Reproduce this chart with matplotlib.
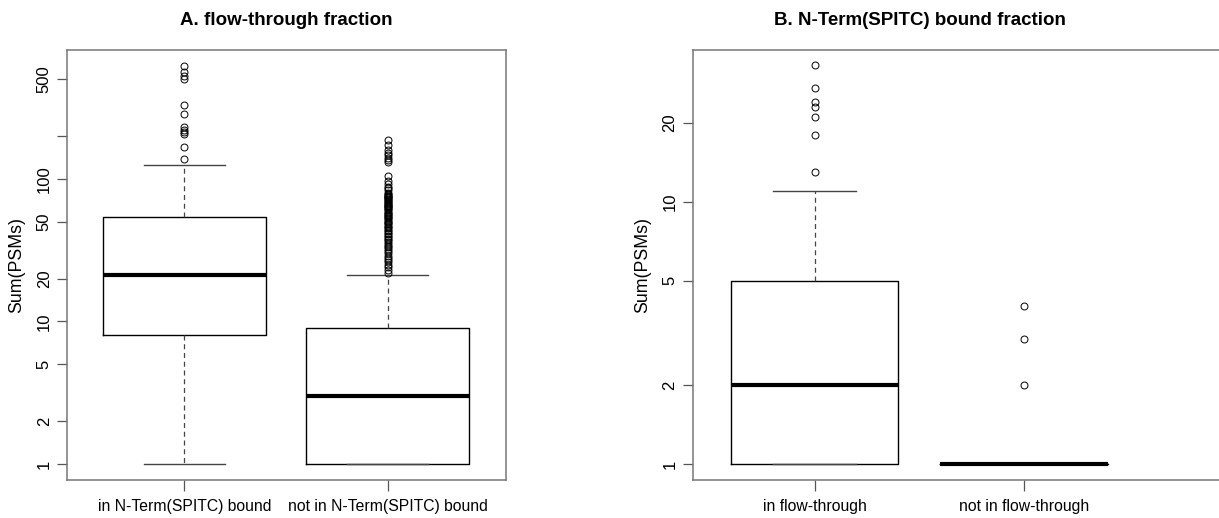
import matplotlib
matplotlib.use("Agg")
import matplotlib.pyplot as plt

plt.rcParams["font.family"] = ["Liberation Sans", "DejaVu Sans"]

# ------------------------------------------------------------
# Data
# ------------------------------------------------------------
a_labels = ["in N-Term(SPITC) bound", "not in N-Term(SPITC) bound"]
a_whislo = [1, 1]
a_q1 = [8, 1]
a_med = [21, 3]
a_q3 = [54, 9]
a_whishi = [125, 21]
a_fliers_1 = [620, 560, 525, 505, 330, 285, 232, 220, 212, 205, 166, 138]
a_fliers_2 = [22, 23, 24, 25, 26, 27, 28, 29, 30, 31, 32, 33, 34, 35, 36, 37,
              38, 39, 40, 41, 42, 43, 44, 45, 46, 47, 48, 49, 50, 51, 52, 53,
              54, 55, 56, 57, 58, 59, 60, 61, 62, 63, 64, 65, 66, 67, 68, 69,
              70, 71, 72, 73, 74, 75, 76, 77, 78, 80, 83, 86, 88, 92, 96, 105,
              131, 135, 140, 146, 152, 160, 172, 187]

b_labels = ["in flow-through", "not in flow-through"]
b_whislo = [1, 1]
b_q1 = [1, 1]
b_med = [2, 1]
b_q3 = [5, 1]
b_whishi = [11, 1]
b_fliers_1 = [33, 27, 24, 23, 21, 18, 13]
b_fliers_2 = [4, 3, 2]

a_ticks = [1, 2, 5, 10, 20, 50, 100, 200, 500]
a_ticklabels = ["1", "2", "5", "10", "20", "50", "100", "", "500"]
b_ticks = [1, 2, 5, 10, 20]
b_ticklabels = ["1", "2", "5", "10", "20"]


def make_stats(labels, whislo, q1, med, q3, whishi, fliers):
    stats = []
    for i in range(len(labels)):
        stats.append(dict(label=labels[i], whislo=whislo[i], q1=q1[i],
                          med=med[i], q3=q3[i], whishi=whishi[i],
                          fliers=fliers[i]))
    return stats


def draw_panel(ax, stats, xlim, ylim, ticks, ticklabels):
    ax.bxp(stats, positions=[1, 2], widths=0.8, capwidths=0.4,
           showfliers=True, patch_artist=False,
           boxprops=dict(color="black", lw=1.0),
           medianprops=dict(color="black", lw=3.0, solid_capstyle="butt"),
           whiskerprops=dict(color="#444444", lw=0.9, linestyle=(0, (4, 3))),
           capprops=dict(color="#444444", lw=1.0),
           flierprops=dict(marker="o", markersize=5, markerfacecolor="none",
                           markeredgecolor="black", markeredgewidth=0.7,
                           linestyle="none"))
    ax.set_yscale("log")
    ax.set_xlim(*xlim)
    ax.set_ylim(*ylim)
    ax.set_yticks(ticks)
    ax.set_yticklabels(ticklabels, rotation=90, va="center", fontsize=12)
    ax.minorticks_off()
    ax.tick_params(axis="y", length=7, width=0.9, color="#555555", pad=4)
    ax.tick_params(axis="x", length=8, width=0.9, color="#555555", pad=6,
                   labelsize=11.3)
    for sp in ax.spines.values():
        sp.set_color("#777777")
        sp.set_linewidth(1.1)
    ax.set_ylabel("Sum(PSMs)", fontsize=12.8, labelpad=8)


fig = plt.figure(figsize=(12.19, 5.18), dpi=100)

# Panel A
ax1 = fig.add_axes([0.05496, 0.07336, 0.3601, 0.8301])
stats_a = make_stats(a_labels, a_whislo, a_q1, a_med, a_q3, a_whishi,
                     [a_fliers_1, a_fliers_2])
draw_panel(ax1, stats_a, (0.4233, 2.5816), (0.7735, 800), a_ticks, a_ticklabels)
fig.text(0.2346, 0.961, "A. flow-through fraction", ha="center", va="center",
         fontsize=13.5, fontweight="bold")

# Panel B (right edge of frame runs off the image)
ax2 = fig.add_axes([0.5683, 0.07336, 0.4366, 0.8301])
stats_b = make_stats(b_labels, b_whislo, b_q1, b_med, b_q3, b_whishi,
                     [b_fliers_1, b_fliers_2])
draw_panel(ax2, stats_b, (0.4195, 2.9566), (0.8696, 37.8), b_ticks, b_ticklabels)
ax2.spines["right"].set_visible(False)
fig.text(0.7543, 0.961, "B. N-Term(SPITC) bound fraction", ha="center",
         va="center", fontsize=13.5, fontweight="bold")

fig.savefig("out.png", dpi=100)
plt.close(fig)
